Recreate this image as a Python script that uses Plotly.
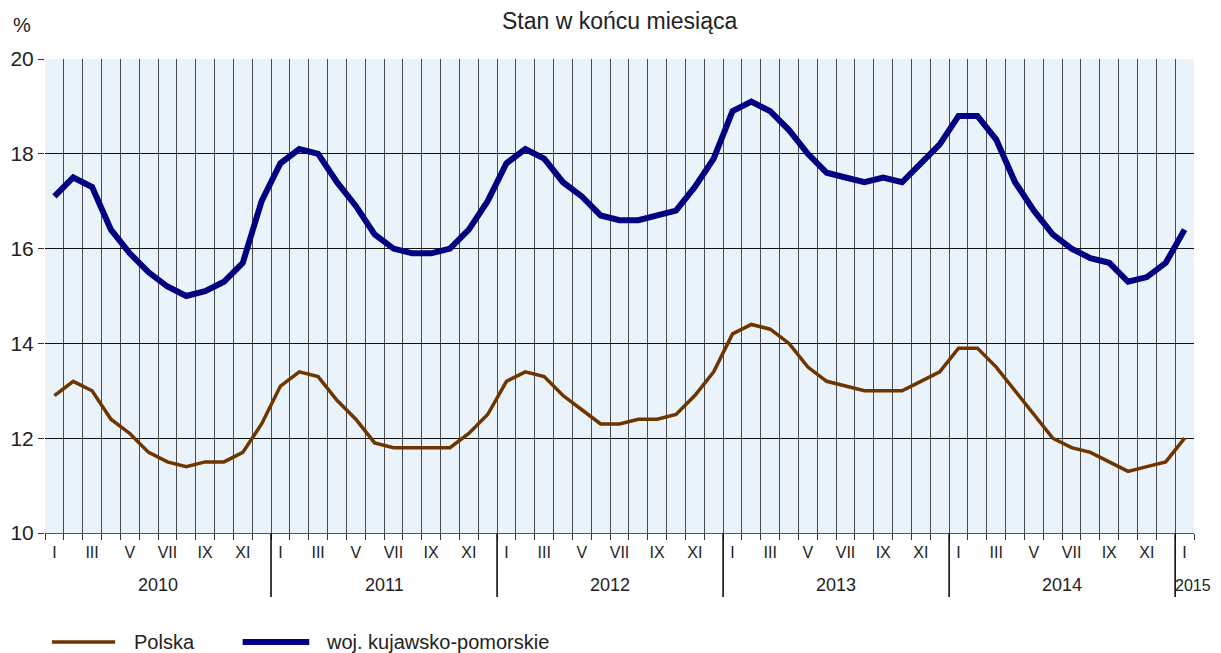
import plotly.graph_objects as go

# monthly data, I 2010 .. I 2015
years = ['2010', '2011', '2012', '2013', '2014', '2015']
months = ['I', 'II', 'III', 'IV', 'V', 'VI', 'VII', 'VIII', 'IX', 'X', 'XI', 'XII']

kujawsko = [17.1, 17.5, 17.3, 16.4, 15.9, 15.5, 15.2, 15.0, 15.1, 15.3, 15.7, 17.0,
            17.8, 18.1, 18.0, 17.4, 16.9, 16.3, 16.0, 15.9, 15.9, 16.0, 16.4, 17.0,
            17.8, 18.1, 17.9, 17.4, 17.1, 16.7, 16.6, 16.6, 16.7, 16.8, 17.3, 17.9,
            18.9, 19.1, 18.9, 18.5, 18.0, 17.6, 17.5, 17.4, 17.5, 17.4, 17.8, 18.2,
            18.8, 18.8, 18.3, 17.4, 16.8, 16.3, 16.0, 15.8, 15.7, 15.3, 15.4, 15.7,
            16.4]

polska = [12.9, 13.2, 13.0, 12.4, 12.1, 11.7, 11.5, 11.4, 11.5, 11.5, 11.7, 12.3,
          13.1, 13.4, 13.3, 12.8, 12.4, 11.9, 11.8, 11.8, 11.8, 11.8, 12.1, 12.5,
          13.2, 13.4, 13.3, 12.9, 12.6, 12.3, 12.3, 12.4, 12.4, 12.5, 12.9, 13.4,
          14.2, 14.4, 14.3, 14.0, 13.5, 13.2, 13.1, 13.0, 13.0, 13.0, 13.2, 13.4,
          13.9, 13.9, 13.5, 13.0, 12.5, 12.0, 11.8, 11.7, 11.5, 11.3, 11.4, 11.5,
          12.0]

n = len(polska)
x = list(range(n))
labels = [months[i % 12] if i % 2 == 0 else '' for i in x]

FONT = 'Liberation Sans, Arial, sans-serif'
TXT = '#222222'
BROWN = '#6E3500'
NAVY = '#000080'

fig = go.Figure()
fig.add_trace(go.Scatter(x=x, y=polska, mode='lines', name='Polska',
                         line=dict(color=BROWN, width=3.5)))
fig.add_trace(go.Scatter(x=x, y=kujawsko, mode='lines', name='woj. kujawsko-pomorskie',
                         line=dict(color=NAVY, width=6)))

# year labels and separators
for k, yr in enumerate(years):
    start = k * 12
    end = min(start + 12, n)
    if end - start > 1:
        fig.add_annotation(x=(start + end - 1) / 2, y=-0.11, xref='x', yref='paper',
                           xanchor='center', yanchor='middle',
                           text=yr, showarrow=False, font=dict(size=18, color=TXT))
    else:
        # last (single-month) year sits right of its separator
        fig.add_annotation(x=start - 0.5, y=-0.11, xref='x', yref='paper',
                           xanchor='left', yanchor='middle', xshift=-2,
                           text=yr, showarrow=False, font=dict(size=16, color=TXT))
    if k > 0:
        fig.add_shape(type='line', x0=start - 0.5, x1=start - 0.5, y0=0, y1=-0.135,
                      xref='x', yref='paper', line=dict(color='black', width=1.5))

# legend drawn by hand (longer line samples than plotly's)
legend_items = [('Polska', BROWN, 3.5, 0.006, 0.061, 0.076),
                ('woj. kujawsko-pomorskie', NAVY, 6, 0.172, 0.230, 0.243)]
for name, col, w, x0, x1, xt in legend_items:
    fig.add_shape(type='line', x0=x0, x1=x1, y0=-0.23, y1=-0.23, xref='paper', yref='paper',
                  line=dict(color=col, width=w))
    fig.add_annotation(x=xt, y=-0.23, xref='paper', yref='paper',
                       xanchor='left', yanchor='middle',
                       text=name, showarrow=False, font=dict(size=20, color=TXT))

fig.add_annotation(x=0.5, y=1.080, xref='paper', yref='paper', text='Stan w końcu miesiąca',
                   xanchor='center', yanchor='middle',
                   showarrow=False, font=dict(size=23, color=TXT))
fig.add_annotation(x=-0.02, y=1.072, xref='paper', yref='paper', text='%',
                   xanchor='center', yanchor='middle',
                   showarrow=False, font=dict(size=20, color=TXT))

# page body has an 8px margin, so the figure is 8px smaller and offset
fig.update_layout(
    width=1213, height=645,
    margin=dict(l=37, r=27, t=51, b=120),
    paper_bgcolor='white',
    plot_bgcolor='#EAF3F9',
    font=dict(family=FONT, color=TXT),
    showlegend=False,
    xaxis=dict(
        range=[-0.5, n - 0.5], automargin=False,
        tickmode='array', tickvals=x, ticktext=labels,
        ticks='', showgrid=False, zeroline=False,
        tickfont=dict(size=16, color=TXT), ticklabelstandoff=5,
        showline=True, linecolor='#555555', linewidth=1,
        minor=dict(tickmode='array', tickvals=[i - 0.5 for i in range(n + 1)],
                   showgrid=True, gridcolor='#4a4a4a', gridwidth=1,
                   ticks='outside', ticklen=6, tickcolor='#333333'),
    ),
    yaxis=dict(
        range=[10, 20], dtick=2, tick0=10, automargin=False,
        showgrid=True, gridcolor='#111111', gridwidth=1,
        ticks='outside', ticklen=6, tickcolor='#333333',
        tickfont=dict(size=21, color=TXT),
        zeroline=False, showline=False,
    ),
)

fig.write_html('out.html')
